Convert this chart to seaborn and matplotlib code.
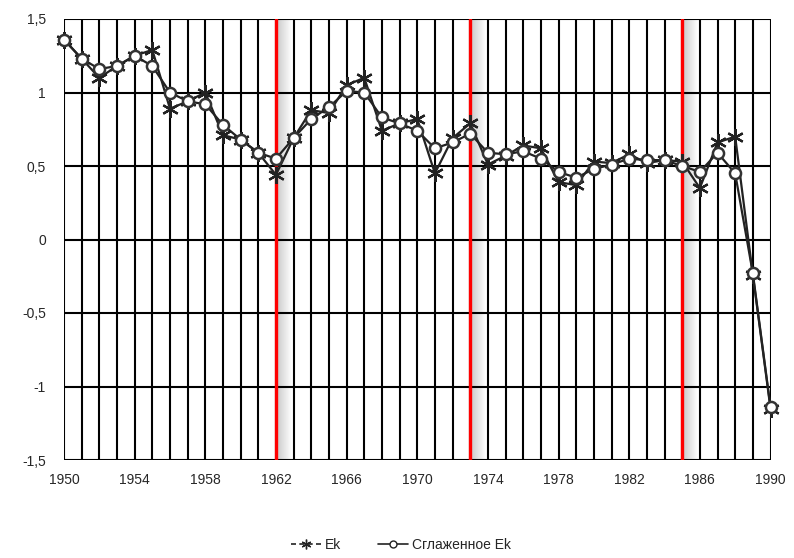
import numpy as np
import pandas as pd
import matplotlib
matplotlib.use("Agg")
import matplotlib.pyplot as plt
import seaborn as sns
from matplotlib.lines import Line2D

years = list(range(1950, 1991))
ek = [1.36, 1.23, 1.10, 1.18, 1.25, 1.29, 0.89, 0.94, 1.00, 0.71,
      0.68, 0.59, 0.44, 0.69, 0.88, 0.86, 1.05, 1.10, 0.74, 0.79,
      0.82, 0.45, 0.69, 0.79, 0.51, 0.57, 0.64, 0.62, 0.39, 0.37,
      0.53, 0.52, 0.58, 0.52, 0.54, 0.53, 0.35, 0.66, 0.70, -0.24, -1.15]
smoothed = [1.36, 1.23, 1.16, 1.18, 1.25, 1.18, 1.00, 0.94, 0.92, 0.78,
            0.68, 0.59, 0.55, 0.69, 0.82, 0.90, 1.01, 1.00, 0.83, 0.79,
            0.74, 0.62, 0.66, 0.72, 0.59, 0.58, 0.60, 0.55, 0.46, 0.42,
            0.48, 0.51, 0.55, 0.54, 0.54, 0.50, 0.46, 0.59, 0.45, -0.23, -1.14]
break_years = [1962, 1973, 1985]
xtick_years = list(range(1950, 1991, 4))
ytick_vals = [-1.5, -1.0, -0.5, 0.0, 0.5, 1.0, 1.5]
ytick_labels = ["-1,5", "-1", "-0,5", "0", "0,5", "1", "1,5"]
label_ek = "Ek"
label_sm = "Сглаженное Ek"

df = pd.DataFrame({"year": years, "ek": ek, "smoothed": smoothed})

sns.set_style("white")
plt.rcParams["font.family"] = ["Liberation Sans", "DejaVu Sans"]

fig = plt.figure(figsize=(7.94, 5.58), dpi=100)
ax = fig.add_axes([64 / 794, 1 - 460 / 558, (770.5 - 64) / 794, (460 - 19) / 558])

ax.set_xlim(1950, 1990)
ax.set_ylim(-1.5, 1.5)

# grid
for yr in years:
    ax.axvline(yr, color="black", lw=1.5, zorder=1)
for v in ytick_vals:
    ax.axhline(v, color="black", lw=1.5, zorder=1)

# gradient shading right of break lines
grad = np.linspace(0.78, 1.0, 64).reshape(1, -1)
for b in break_years:
    ax.imshow(grad, extent=[b, b + 0.85, -1.5, 1.5], aspect="auto",
              cmap="gray", vmin=0, vmax=1, zorder=0.5, interpolation="bilinear")
for b in break_years:
    ax.axvline(b, color="#ff0000", lw=2.4, zorder=2)

sns.lineplot(data=df, x="year", y="ek", ax=ax, color="#222222", lw=1.6,
             marker=(6, 2, 0), markersize=12, markeredgewidth=1.6,
             markeredgecolor="#222222", zorder=3, legend=False, clip_on=False)
sns.lineplot(data=df, x="year", y="smoothed", ax=ax, color="#222222", lw=1.6,
             marker="o", markersize=8, markerfacecolor="white",
             markeredgewidth=1.8, markeredgecolor="#333333", zorder=4, legend=False,
             clip_on=False)

ax.set_xticks(xtick_years)
ax.set_xticklabels([str(y) for y in xtick_years], fontsize=10)
ax.set_yticks(ytick_vals)
ax.set_yticklabels(ytick_labels, fontsize=10)
ax.tick_params(axis="both", length=0)
ax.tick_params(axis="x", pad=9)
ax.tick_params(axis="y", pad=13)
ax.set_xlabel("")
ax.set_ylabel("")
for s in ax.spines.values():
    s.set_visible(False)

handles = [
    Line2D([0], [0], color="#222222", lw=1.2, ls=(0, (3, 2)), marker=(6, 2, 0),
           markersize=7, markeredgewidth=1.0),
    Line2D([0], [0], color="#222222", lw=1.2, marker="o", markersize=5,
           markerfacecolor="white", markeredgewidth=1.0),
]
fig.legend(handles, [label_ek, label_sm], loc="center", bbox_to_anchor=(0.505, 0.023),
           ncol=2, frameon=False, fontsize=10, handlelength=2.2, columnspacing=2.6,
           handletextpad=0.3)

fig.savefig("out.png", dpi=100)
